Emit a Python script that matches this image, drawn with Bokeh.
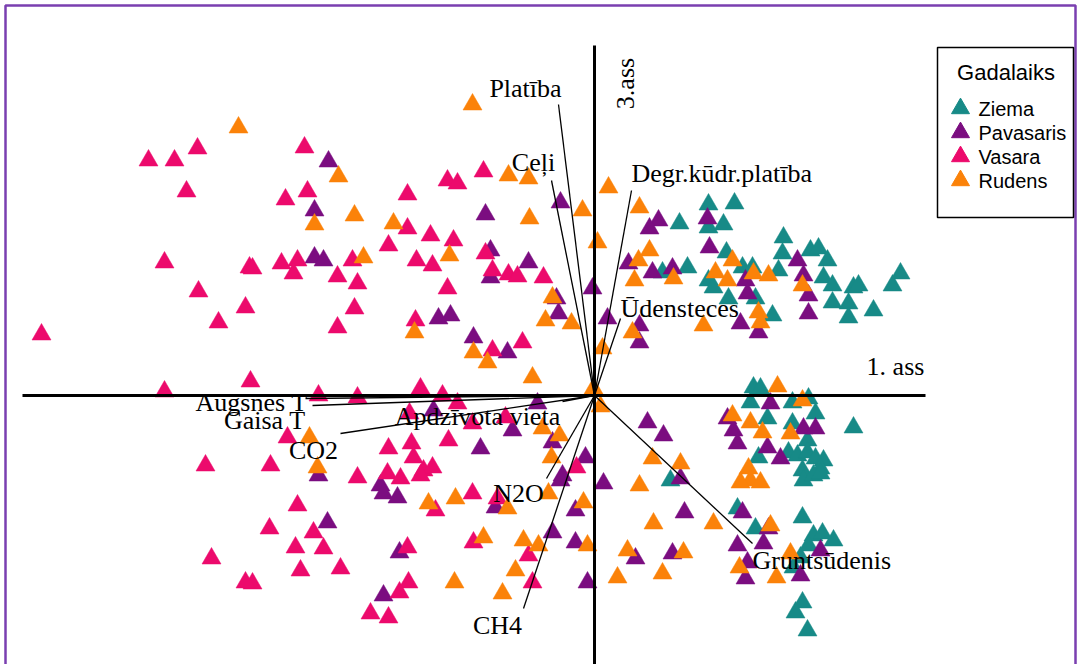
from bokeh.plotting import figure
from bokeh.models import Range1d
from bokeh.embed import file_html
from bokeh.resources import INLINE
from bokeh.core.properties import value

# ---- data: sample scores on axis 1 (x) and axis 3 (y) ----
ziema_x = [0.85, 1.14, 1.14, 0.68, 0.93, 1.40, 1.29, 1.32, 1.89, 1.88, 2.16, 2.24, 2.33, 1.48, 1.58, 1.84,
           3.06, 2.29, 2.38, 2.59, 2.64, 2.98, 1.14, 1.34, 1.61, 2.38, 2.54, 2.79, 2.54, 1.78, 1.19,
           1.59, 1.66, 1.56, 1.98, 1.73, 2.21, 2.59, 1.98, 2.13, 1.64, 1.94, 2.03, 2.13, 2.21, 2.29,
           2.08, 2.26, 2.09, 2.19, 2.26, 1.43, 2.08, 1.61, 2.19, 2.28, 2.39, 2.14, 2.06, 1.99, 2.08,
           2.01, 2.13, 0.76, 2.14]
ziema_y = [1.72, 1.91, 1.68, 1.23, 1.28, 1.92, 1.71, 1.43, 1.58, 1.42, 1.45, 1.47, 1.35, 1.28, 1.28, 1.25,
           1.22, 1.18, 1.10, 1.08, 1.10, 1.10, 1.15, 0.97, 0.97, 0.93, 0.92, 0.85, 0.78, 0.80, 1.08,
           0.08, 0.07, -0.07, -0.07, -0.23, -0.18, -0.32, -0.28, -0.45, -0.62, -0.57, -0.60, -0.57, -0.63, -0.65,
           -0.75, -0.73, -0.85, -0.80, -0.78, -1.13, -1.22, -1.33, -1.40, -1.38, -1.45, -1.50, -1.62, -1.72, -2.07,
           -2.17, -2.35, -0.85, -0.03]

pavasaris_x = [-2.66, -2.80, -1.09, -0.34, 0.64, 0.55, 1.13, 0.34, -1.04, -0.66, 0.58, 0.78, 1.15, 2.03,
               1.51, 2.09, 1.53, 2.14, 1.46, 1.64, 2.14, 1.76, 1.33, 1.39, 2.09, 2.21, 1.43, 1.73, 1.86,
               1.48, 1.74, 1.43, 1.69, 2.26, 1.53, 1.51, 2.06, -1.04, -0.38, -0.36, -0.02, 0.13, 0.45,
               0.45, -0.87, -0.57, -0.82, -0.42, -0.09, 0.53, 0.69, -0.32, -1.56, -1.44, -1.21, -1.61,
               -1.14, -0.34, 0.09, 0.86, -0.99, -0.19, 0.90, -0.42, -0.19, 0.41, 0.78, -0.07, -2.76,
               -2.14, -2.11, -1.97, -2.67, -1.95, -2.11, -2.80, -2.71]
pavasaris_y = [2.34, 1.85, 1.81, 1.93, 1.75, 1.67, 1.77, 1.32, 1.45, 1.33, 1.23, 1.27, 1.48, 1.35,
               1.15, 1.20, 1.02, 1.00, 0.72, 0.63, 0.82, -0.08, -0.23, -0.35, -0.33, -0.33, -0.48, -0.52, -0.63,
               -1.17, -1.33, -1.50, -1.48, -1.55, -1.67, -1.83, -1.80, 1.18, 0.97, 0.82, 1.07, 0.77, 0.70,
               0.53, 0.43, -0.08, -0.35, -0.47, -0.62, -0.27, -0.40, -0.80, 0.77, 0.80, 0.58, -0.15,
               -0.53, -0.85, -0.88, -0.83, -1.12, -1.15, -1.17, -1.37, -1.47, -1.63, -1.58, -1.87, -0.80,
               -0.90, -0.98, -1.02, -1.27, -1.57, -2.00, 1.38, 1.35]

vasara_x = [-4.46, -4.20, -3.97, -4.08, -4.30, -3.45, -5.53, -3.96, -3.49, -3.76, -3.44, -4.30, -3.89,
            -2.90, -3.09, -2.87, -1.87, -1.87, -1.47, -1.37, -1.11, -1.64, -2.06, -1.41, -1.78, -1.62,
            -3.13, -2.97, -2.42, -3.01, -2.57, -3.42, -1.09, -1.02, -0.86, -0.77, -0.51, -2.37, -1.47,
            -2.40, -2.57, -1.79, -2.76, -2.37, -1.74, -1.52, -1.37, -1.85, -1.22, -3.07, -2.06, -1.83,
            -1.46, -3.24, -2.37, -1.81, -1.71, -1.62, -2.07, -1.02, -0.72, -0.89, -0.18, -0.97, -0.66,
            -0.62, -1.94, -1.74, -1.59, -1.22, -2.97, -2.81, -3.25, -2.99, -2.71, -2.94, -2.54, -1.87,
            -1.86, -1.95, -2.24, -2.06, -1.21, -3.42, -3.83, -3.49]
vasara_y = [2.35, 2.35, 2.47, 2.04, 1.33, 1.28, 0.61, 1.04, 0.88, 0.73, 0.14, 0.04, -0.70,
            2.48, 1.96, 2.04, 2.01, 1.67, 2.15, 2.12, 2.24, 1.60, 1.50, 1.55, 1.35, 1.30,
            1.32, 1.35, 1.35, 1.22, 1.19, 1.27, 1.42, 1.25, 1.21, 1.19, 1.18, 1.12, 1.07,
            0.87, 0.68, 0.75, 0.00, -0.02, 0.07, 0.00, -0.08, -0.18, -0.28, -0.42, -0.53, -0.48,
            -0.45, -0.70, -0.82, -0.62, -0.75, -0.72, -0.78, 0.45, 0.53, -0.22, -0.72, -1.03, -1.60,
            -1.87, -0.83, -0.80, -1.15, -0.98, -1.10, -1.37, -1.33, -1.52, -1.53, -1.75, -1.73, -1.52,
            -1.87, -1.97, -2.18, -2.22, -1.47, -1.88, -1.63, -1.87]

rudens_x = [-3.56, -1.22, -2.56, -2.80, -2.40, -2.01, -1.45, -2.31, -0.86, -0.66, -0.12, 0.14, -0.65,
            0.45, 0.03, 0.55, 0.44, 1.21, 1.38, 1.33, 1.59, 1.74, 2.08, 1.64, 1.66, 1.09, -0.42, -0.49,
            -0.23, 0.40, 0.79, 0.38, 0.08, -1.07, -0.62, -0.01, 0.06, -0.52, -0.35, -0.43, -1.80, -1.21,
            -2.85, -2.77, 1.83, 2.08, 1.38, 1.56, 1.68, 1.96, 1.54, 1.56, 1.66, 1.46, 1.19, 1.76, 1.96,
            1.45, 1.82, 0.45, -0.46, -0.11, -0.87, 0.59, -1.11, -0.71, -0.56, -0.07, 0.33, 0.89, -0.79,
            0.23, 0.68, -0.92, -1.66, -1.39, -1.40, 0.58, 0.86]
rudens_y = [2.68, 2.91, 2.19, 1.71, 1.80, 1.72, 1.40, 1.38, 2.20, 2.17, 1.85, 2.08, 1.77,
            1.88, 1.53, 1.45, 1.35, 1.23, 1.35, 1.15, 1.22, 1.20, 1.10, 0.83, 0.73, 0.70, 0.98, 0.75,
            0.72, 1.15, 1.17, 0.63, 0.47, 0.33, 0.18, 0.07, -0.11, -0.33, -0.40, -0.62, 0.63, 0.43,
            -0.42, -0.72, 0.09, -0.05, -0.20, -0.27, -0.37, -0.38, -0.73, -0.85, -0.87, -0.87, -1.28, -1.30, -1.58,
            -1.72, -1.82, -0.90, -0.98, -1.07, -1.13, -1.28, -1.42, -1.45, -1.50, -1.50, -1.55, -1.57, -1.75,
            -1.82, -1.78, -1.98, -1.08, -1.03, -1.87, -0.63, -0.68]

# ---- environmental vectors ----
vec_names = ["Platība", "Ceļi", "Degr.kūdr.platība", "Ūdensteces", "Augsnes T", "Gaisa T",
             "CO2", "Apdzīvota vieta", "N2O", "CH4", "Gruntsūdenis"]
vec_x = [-0.36, -0.43, 0.37, 0.26, -2.89, -2.82, -2.54, -0.32, -0.48, -0.71, 1.58]
vec_y = [2.91, 2.15, 2.05, 0.77, -0.03, -0.10, -0.38, -0.06, -0.83, -2.13, -1.48]

# label anchors (layout) and alignment
lab_x = [-0.69, -0.61, 0.37, 0.26, -2.87, -2.89, -2.81, -1.17, -0.76, -0.97, 1.58]
lab_y = [3.07, 2.33, 2.22, 0.87, -0.07, -0.25, -0.55, -0.21, -0.98, -2.30, -1.65]
lab_align = ["center", "center", "left", "left", "right", "right", "center", "center", "center", "center", "left"]

seasons = ["Ziema", "Pavasaris", "Vasara", "Rudens"]
colors = ["#178a87", "#7b0d80", "#ec0a6c", "#fb8209"]

W, H = 1077, 664
p = figure(width=W, height=H, x_range=Range1d(-5.94, -5.94 + W / 100), y_range=Range1d(3.95 - H / 100, 3.95),
           output_backend="svg", toolbar_location=None, min_border=0,
           x_axis_location=None, y_axis_location=None)
p.grid.visible = False
p.outline_line_color = None
p.background_fill_color = "white"
p.border_fill_color = "white"

# purple frame around the picture
p.line(x=[-5.89, -5.89, 4.81, 4.81], y=[-2.80, 3.90, 3.90, -2.80], line_color="#7a3fb0", line_width=2.5)

series = [(ziema_x, ziema_y), (pavasaris_x, pavasaris_y), (vasara_x, vasara_y), (rudens_x, rudens_y)]
for (xs, ys), c in zip(series, colors):
    p.scatter(xs, ys, marker="triangle", size=19, fill_color=c, line_color=c, line_width=0.5)

# ordination axes
p.segment(x0=[-5.72], y0=[0], x1=[3.31], y1=[0], line_color="black", line_width=3)
p.segment(x0=[0], y0=[3.50], x1=[0], y1=[-2.90], line_color="black", line_width=3)

# vectors
p.segment(x0=[0] * len(vec_x), y0=[0] * len(vec_y), x1=vec_x, y1=vec_y, line_color="black", line_width=1.3)

serif = value("Liberation Serif")
for al in ["left", "center", "right"]:
    idx = [i for i, a in enumerate(lab_align) if a == al]
    p.text(x=[lab_x[i] for i in idx], y=[lab_y[i] for i in idx], text=[vec_names[i] for i in idx],
           text_font=serif, text_font_size="26px", text_align=al, text_baseline="middle", text_color="black")

p.text(x=[3.01], y=[0.29], text=["1. ass"], text_font=serif, text_font_size="26px",
       text_align="center", text_baseline="middle")
p.text(x=[0.31], y=[3.12], text=["3.ass"], text_font=serif, text_font_size="26px",
       text_align="center", text_baseline="middle", angle=1.5708)

# legend (manual)
p.rect(x=[4.11], y=[2.63], width=[1.36], height=[1.70], fill_color="white", line_color="black", line_width=1.5)
p.text(x=[4.115], y=[3.23], text=["Gadalaiks"], text_font=value("Liberation Sans"), text_font_size="22px",
       text_align="center", text_baseline="middle")
leg_y = [2.87, 2.63, 2.39, 2.15]
p.scatter(x=[3.66] * 4, y=leg_y, marker="triangle", size=18, fill_color=colors, line_color=colors)
p.text(x=[3.84] * 4, y=leg_y, text=seasons, text_font=value("Liberation Sans"), text_font_size="20px",
       text_align="left", text_baseline="middle")

open("out.html", "w").write(file_html(p, INLINE))
